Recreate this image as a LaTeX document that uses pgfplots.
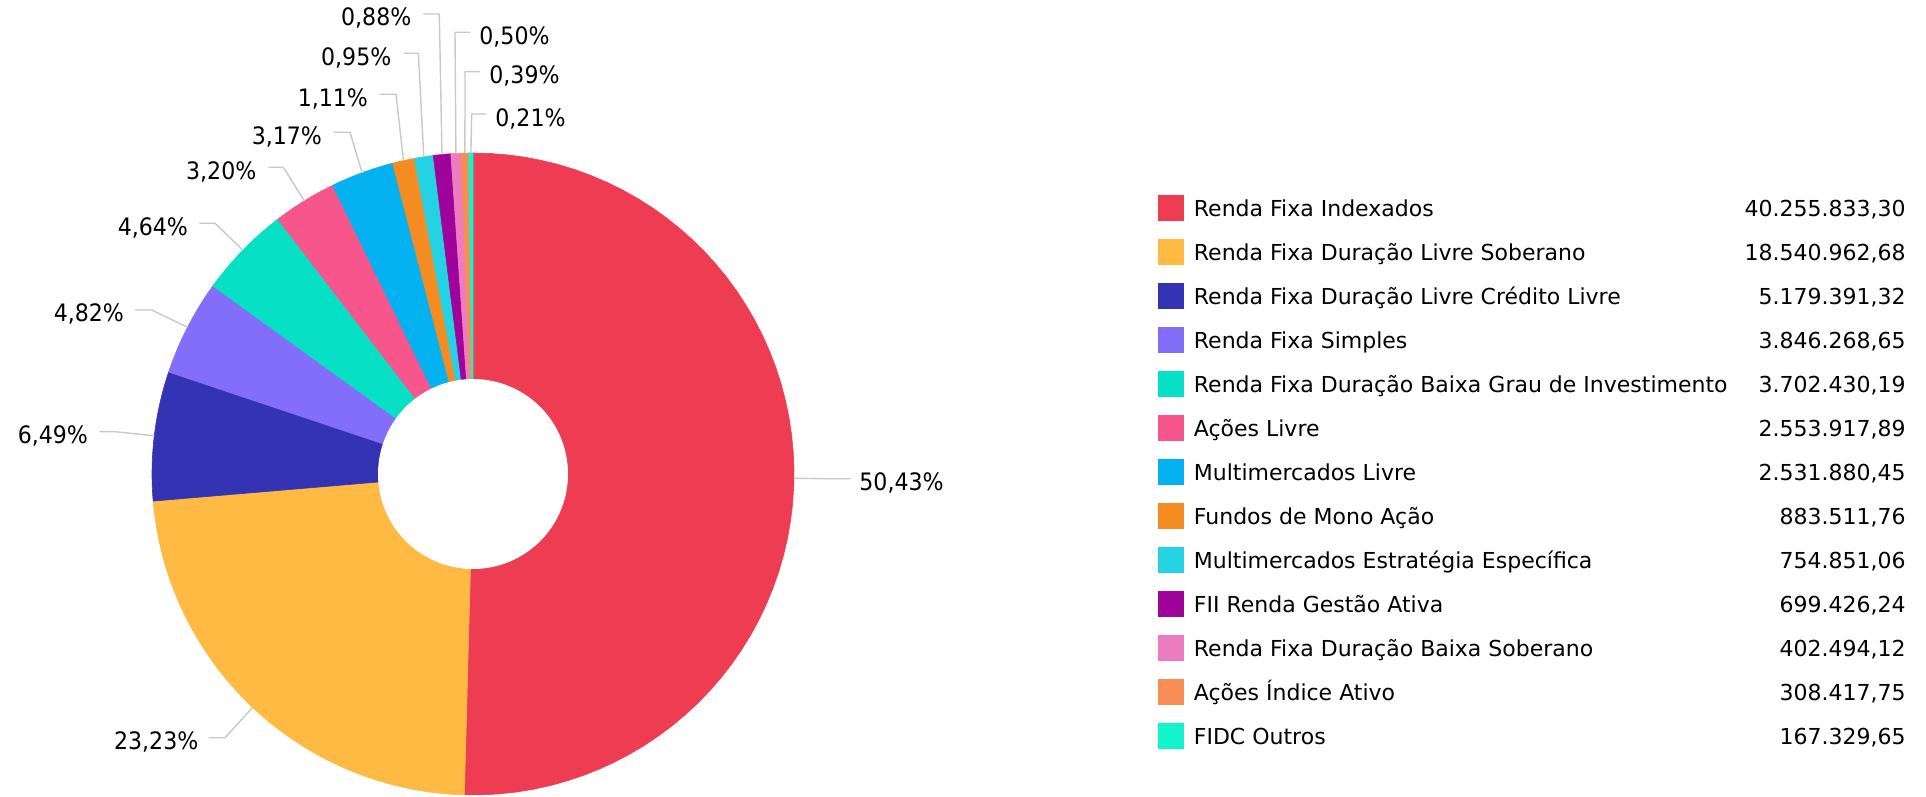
\documentclass[border=0pt]{standalone}
\usepackage{pgfplots}
\pgfplotsset{compat=1.18}
\usepackage{fontspec}
\setmainfont{DejaVu Sans}
\newfontfamily\labfont{DejaVu Sans}[FakeStretch=0.92]
\newfontfamily\legfont{DejaVu Sans}
\definecolor{c1}{HTML}{EE3D52}
\definecolor{c2}{HTML}{FFBA44}
\definecolor{c3}{HTML}{3333B3}
\definecolor{c4}{HTML}{826EF9}
\definecolor{c5}{HTML}{07E0C4}
\definecolor{c6}{HTML}{F7568C}
\definecolor{c7}{HTML}{04B2F2}
\definecolor{c8}{HTML}{F58C22}
\definecolor{c9}{HTML}{24D3E3}
\definecolor{c10}{HTML}{A0039B}
\definecolor{c11}{HTML}{EE7CC1}
\definecolor{c12}{HTML}{F88D55}
\definecolor{c13}{HTML}{12F5CC}
\definecolor{leader}{HTML}{C8C8C8}
% slice: cumulative start %, cumulative end %, colour
\newcommand{\slice}[3]{\addplot[fill=#3, draw=#3, line width=0.3pt, domain=#1:#2, samples=60, variable=\t]
  ({473+321*cos(90-3.6*\t)},{323+321*sin(90-3.6*\t)}) -- (axis cs:473,323) -- cycle;}
% leader line: three points (y measured downward from top)
\newcommand{\lead}[6]{\addplot[leader, line width=0.7pt] coordinates {(#1,797-#2) (#3,797-#4) (#5,797-#6)};}
\newcommand{\legrow}[4]{%
  \addplot[only marks, mark=square*, mark size=6.4pt, color=#2] coordinates {(1171,{797-(207.8+44*#1)})};
  \node[anchor=base west, inner sep=0pt, font=\legfont\fontsize{11}{13}\selectfont] at (axis cs:1193.5,{797-(216.5+44*#1)}) {#3};
  \node[anchor=base east, inner sep=0pt, font=\legfont\fontsize{11}{13}\selectfont] at (axis cs:1906,{797-(216.5+44*#1)}) {#4};}
\begin{document}
\begin{tikzpicture}
\useasboundingbox (0,0) rectangle (963pt,398.5pt);
\begin{axis}[at={(0,0)}, anchor=south west, scale only axis, width=963pt, height=398.5pt,
  xmin=0, xmax=1926, ymin=0, ymax=797, hide axis, clip=false]
% donut slices (cumulative shares of 79.826.715,06)
\slice{0}{50.4290}{c1}
\slice{50.4290}{73.6555}{c2}
\slice{73.6555}{80.1438}{c3}
\slice{80.1438}{84.9621}{c4}
\slice{84.9621}{89.6002}{c5}
\slice{89.6002}{92.7995}{c6}
\slice{92.7995}{95.9712}{c7}
\slice{95.9712}{97.0780}{c8}
\slice{97.0780}{98.0236}{c9}
\slice{98.0236}{98.8998}{c10}
\slice{98.8998}{99.4040}{c11}
\slice{99.4040}{99.7904}{c12}
\slice{99.7904}{100}{c13}
\addplot[fill=white, draw=none, domain=0:360, samples=120, variable=\t]
  ({473+95*cos(\t)},{323+95*sin(\t)}) -- cycle;
% leader lines
\lead{793.9}{478.3}{834}{478.8}{850.7}{478.8}
\lead{252.7}{707.4}{225}{737.7}{209}{737.7}
\lead{154.3}{435.8}{115}{431.7}{99.3}{431.7}
\lead{187.5}{327.3}{151.7}{310}{135}{310}
\lead{242.9}{250.2}{215}{223.3}{199.3}{223.3}
\lead{304.4}{200.9}{283.3}{167.3}{268.3}{167.3}
\lead{362.1}{172.8}{350}{132.3}{333.3}{132.3}
\lead{403.5}{160.6}{396}{94.3}{379.3}{94.3}
\lead{423.8}{156.8}{418.3}{53.3}{404}{53.3}
\lead{442}{154.5}{439.3}{14}{423.3}{14}
\lead{455.9}{153.4}{455}{32.3}{470}{32.3}
\lead{464.9}{153.1}{465}{71.7}{480}{71.7}
\lead{470.9}{153}{471.7}{114}{486}{114}
% percentage labels
\begin{scope}[every node/.style={inner sep=0pt, font=\labfont\fontsize{12}{14}\selectfont}]
\node[anchor=base west] at (axis cs:859,797-491) {50,43\%};
\node[anchor=base east] at (axis cs:198.7,797-750) {23,23\%};
\node[anchor=base east] at (axis cs:88.3,797-444) {6,49\%};
\node[anchor=base east] at (axis cs:124.3,797-322) {4,82\%};
\node[anchor=base east] at (axis cs:188.3,797-235.6) {4,64\%};
\node[anchor=base east] at (axis cs:256.7,797-179.6) {3,20\%};
\node[anchor=base east] at (axis cs:322.3,797-144.6) {3,17\%};
\node[anchor=base east] at (axis cs:368.3,797-106.6) {1,11\%};
\node[anchor=base east] at (axis cs:391.7,797-65.6) {0,95\%};
\node[anchor=base east] at (axis cs:411.7,797-26) {0,88\%};
\node[anchor=base west] at (axis cs:479,797-44.6) {0,50\%};
\node[anchor=base west] at (axis cs:489,797-84) {0,39\%};
\node[anchor=base west] at (axis cs:495,797-126.3) {0,21\%};
\end{scope}
% legend
\legrow{0}{c1}{Renda Fixa Indexados}{40.255.833,30}
\legrow{1}{c2}{Renda Fixa Duração Livre Soberano}{18.540.962,68}
\legrow{2}{c3}{Renda Fixa Duração Livre Crédito Livre}{5.179.391,32}
\legrow{3}{c4}{Renda Fixa Simples}{3.846.268,65}
\legrow{4}{c5}{Renda Fixa Duração Baixa Grau de Investimento}{3.702.430,19}
\legrow{5}{c6}{Ações Livre}{2.553.917,89}
\legrow{6}{c7}{Multimercados Livre}{2.531.880,45}
\legrow{7}{c8}{Fundos de Mono Ação}{883.511,76}
\legrow{8}{c9}{Multimercados Estratégia Específica}{754.851,06}
\legrow{9}{c10}{FII Renda Gestão Ativa}{699.426,24}
\legrow{10}{c11}{Renda Fixa Duração Baixa Soberano}{402.494,12}
\legrow{11}{c12}{Ações Índice Ativo}{308.417,75}
\legrow{12}{c13}{FIDC Outros}{167.329,65}
\end{axis}
\end{tikzpicture}
\end{document}
